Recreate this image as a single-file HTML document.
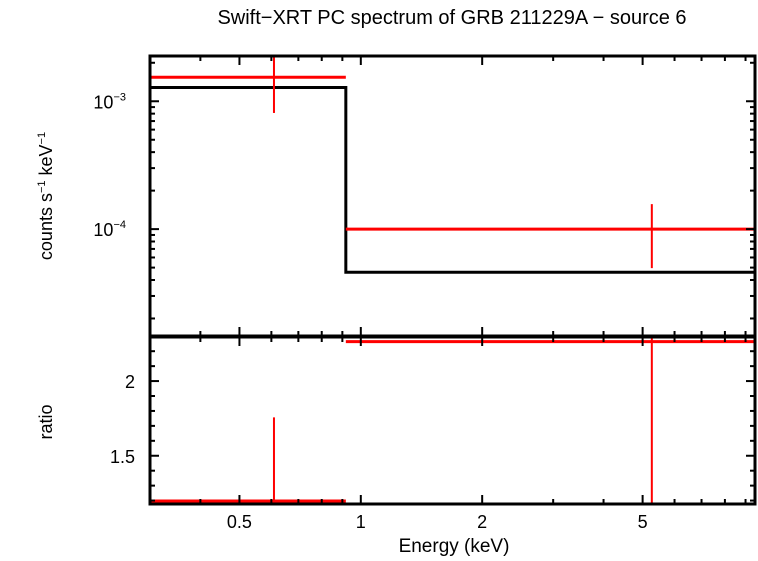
<!DOCTYPE html>
<html><head><meta charset="utf-8"><style>
body{margin:0;background:#fff;width:758px;height:556px;overflow:hidden}
svg text{font-family:"Liberation Sans",sans-serif;fill:#000}
</style></head><body>
<svg id="chart" width="758" height="556">
<text x="452" y="24" font-size="20" text-anchor="middle">Swift−XRT PC spectrum of GRB 211229A − source 6</text>
<text x="454" y="552" font-size="19" text-anchor="middle">Energy (keV)</text>
<text transform="translate(52,196) rotate(-90)" font-size="18" text-anchor="middle">counts s<tspan font-size="11" dy="-7">−1</tspan><tspan dy="7"> keV</tspan><tspan font-size="11" dy="-7">−1</tspan></text>
<text transform="translate(52,422) rotate(-90)" font-size="18" text-anchor="middle">ratio</text>
<g id="g"></g>
</svg>
<script>
const xTickValues=[0.5,1,2,5];
const xTickLabels=["0.5","1","2","5"];
const dataLo=[0.3,0.918];
const dataHi=[0.918,9.5];
const dataE=[0.609,5.27];
const dataRate=[1.54e-3,1.0e-4];
const dataRateErrLo=[8.1e-4,4.95e-5];
const dataRateErrHi=[2.5e-3,1.57e-4];
const modelRate=[1.28e-3,4.6e-5];
const ratio=[1.197,2.264];
const ratioErrLo=[1.0,1.0];
const ratioErrHi=[1.757,2.5];
const yTopTicks=[1e-3,1e-4];
const yTopLabels=["3","4"];
const yBotTicks=[1.5,2];
const yBotLabels=["1.5","2"];

const L=150,R=755,T1=56,B1=336,T2=337,B2=504;
const xmin=Math.log10(0.3),xmax=Math.log10(9.5);
const X=e=>L+(Math.log10(e)-xmin)/(xmax-xmin)*(R-L);
const ytmax=-2.646,ytmin=-4.836;
const YT=v=>T1+(ytmax-Math.log10(v))/(ytmax-ytmin)*(B1-T1);
const ybmax=2.295,ybmin=1.177;
const YB=v=>T2+(ybmax-v)/(ybmax-ybmin)*(B2-T2);
const g=document.getElementById('g');
const NS='http://www.w3.org/2000/svg';
function el(t,a,name){const e=document.createElementNS(NS,t);for(const k in a)e.setAttribute(k,a[k]);


g.appendChild(e);return e;}
function ln(x1,y1,x2,y2,c,w,name){return el('line',{x1,y1,x2,y2,stroke:c,'stroke-width':w},name);}
const cl=(v,a,b)=>Math.max(a,Math.min(b,v));
let d='';
modelRate.forEach((m,i)=>{const y=YT(m);d+=(i?'L':'M')+X(dataLo[i])+' '+y+'L'+X(dataHi[i])+' '+y;});
el('path',{d,fill:'none',stroke:'#000','stroke-width':3},'model-line');
dataE.forEach((e,i)=>{
ln(X(dataLo[i]),YT(dataRate[i]),X(dataHi[i]),YT(dataRate[i]),'#f00',3,'data-bin-'+i);
ln(X(e),cl(YT(dataRateErrHi[i]),T1,B1),X(e),cl(YT(dataRateErrLo[i]),T1,B1),'#f00',2,'data-error-'+i);
ln(X(dataLo[i]),YB(ratio[i]),X(dataHi[i]),YB(ratio[i]),'#f00',3,'ratio-bin-'+i);
ln(X(e),cl(YB(ratioErrHi[i]),T2,B2),X(e),cl(YB(ratioErrLo[i]),T2,B2),'#f00',2,'ratio-error-'+i);
});
el('rect',{x:L,y:T1,width:R-L,height:B1-T1,fill:'none',stroke:'#000','stroke-width':3},'top-panel-frame');
el('rect',{x:L,y:T2,width:R-L,height:B2-T2,fill:'none',stroke:'#000','stroke-width':3},'bottom-panel-frame');
const minors=[0.4,0.5,0.6,0.7,0.8,0.9,1,2,3,4,5,6,7,8,9];
minors.forEach(v=>{const x=X(v);const big=xTickValues.includes(v)||v===1;const s=big?9:5;
[[T1,1],[B1,-1],[T2,1],[B2,-1]].forEach(([y,dir])=>ln(x,y,x,y+dir*s,'#000',2,'x-tick'));});
xTickValues.forEach((v,i)=>{const t=el('text',{x:X(v),y:528,'font-size':18,'text-anchor':'middle'},'x-tick-label');t.textContent=xTickLabels[i];});
for(let dec=-5;dec<=-3;dec++)for(let k=1;k<10;k++){const v=k*Math.pow(10,dec);const y=YT(v);if(y<T1||y>B1)continue;const s=k===1?9:5;
ln(L,y,L+s,y,'#000',2,'y-tick-top');ln(R,y,R-s,y,'#000',2,'y-tick-top');}
yTopTicks.forEach((v,i)=>{const t=el('text',{x:126,y:YT(v)+7,'font-size':18,'text-anchor':'end'},'y-tick-label-top');t.innerHTML='10<tspan font-size="11" dy="-8">−'+yTopLabels[i]+'</tspan>';});
for(let v=1.2;v<=2.3;v+=0.1){const y=YB(v);const big=Math.abs(v*2-Math.round(v*2))<0.01;const s=big?9:5;
ln(L,y,L+s,y,'#000',2,'y-tick-bottom');ln(R,y,R-s,y,'#000',2,'y-tick-bottom');}
yBotTicks.forEach((v,i)=>{const t=el('text',{x:135,y:YB(v)+7,'font-size':18,'text-anchor':'end'},'y-tick-label-bottom');t.textContent=yBotLabels[i];});
</script>
</body></html>
